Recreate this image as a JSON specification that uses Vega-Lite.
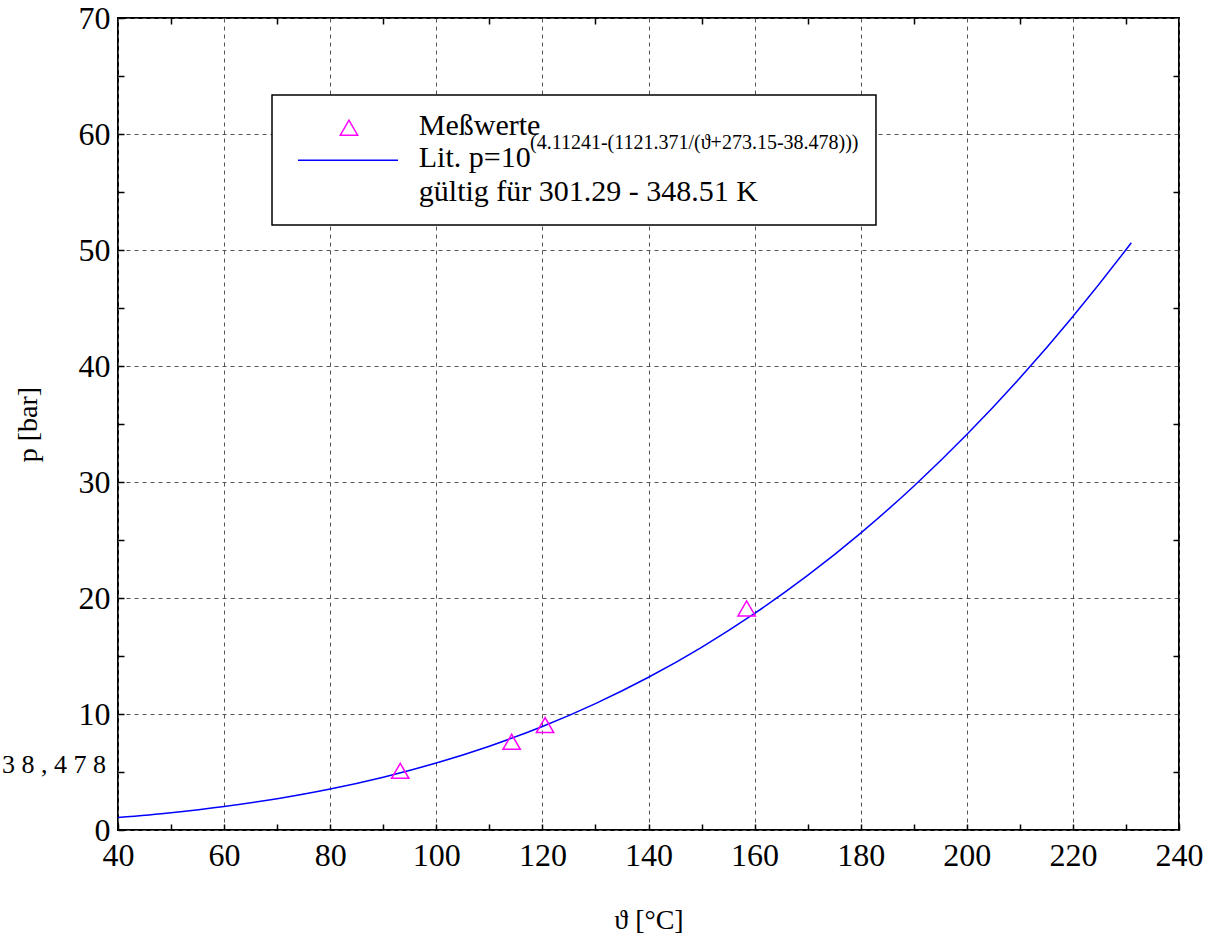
{
  "$schema": "https://vega.github.io/schema/vega-lite/v6.json",
  "width": 1061,
  "height": 812,
  "autosize": {"type": "none"},
  "padding": {"left": 118, "top": 18, "right": 36, "bottom": 104},
  "background": "white",
  "config": {
    "view": {"stroke": "black", "strokeWidth": 2},
    "font": "Liberation Serif",
    "axis": {
      "labelFont": "Liberation Serif",
      "labelFontSize": 32,
      "labelColor": "black",
      "labelFlush": false,
      "labelOverlap": false,
      "titleFont": "Liberation Serif",
      "titleFontSize": 28,
      "titleFontWeight": "normal",
      "titleColor": "black",
      "domain": false,
      "tickColor": "black",
      "tickWidth": 1.5,
      "gridColor": "#555555",
      "gridDash": [4, 4],
      "gridWidth": 1
    }
  },
  "datasets": {
    "curve": [
      {"T": 40, "p": 1.071}, {"T": 50, "p": 1.490}, {"T": 60, "p": 2.027}, {"T": 70, "p": 2.703},
      {"T": 80, "p": 3.538}, {"T": 90, "p": 4.556}, {"T": 100, "p": 5.778}, {"T": 110, "p": 7.227},
      {"T": 120, "p": 8.927}, {"T": 130, "p": 10.899}, {"T": 140, "p": 13.167}, {"T": 150, "p": 15.750},
      {"T": 160, "p": 18.670}, {"T": 170, "p": 21.946}, {"T": 180, "p": 25.596}, {"T": 190, "p": 29.638},
      {"T": 200, "p": 34.088}, {"T": 210, "p": 38.960}, {"T": 220, "p": 44.271}, {"T": 230, "p": 50.024},
      {"T": 231, "p": 50.624}
    ],
    "meas": [
      {"T": 93.2, "p": 5.1},
      {"T": 114.2, "p": 7.6},
      {"T": 120.5, "p": 9.05},
      {"T": 158.5, "p": 19.1}
    ]
  },
  "layer": [
    {
      "data": {"name": "curve"},
      "mark": {"type": "line", "color": "#0000FF", "strokeWidth": 1.5, "interpolate": "monotone"},
      "encoding": {
        "x": {
          "field": "T", "type": "quantitative",
          "scale": {"domain": [40, 240], "nice": false, "zero": false},
          "axis": {
            "orient": "bottom",
            "values": [40, 50, 60, 70, 80, 90, 100, 110, 120, 130, 140, 150, 160, 170, 180, 190, 200, 210, 220, 230, 240],
            "labelExpr": "datum.value % 20 === 0 ? datum.label : ''",
            "tickSize": -6,
            "labelPadding": 16,
            "gridOpacity": {"condition": {"test": "datum.value % 20 === 0", "value": 1}, "value": 0},
            "title": "ϑ [°C]",
            "titlePadding": 35
          }
        },
        "y": {
          "field": "p", "type": "quantitative",
          "scale": {"domain": [0, 70], "nice": false, "zero": false},
          "axis": {
            "orient": "left",
            "values": [0, 5, 10, 15, 20, 25, 30, 35, 40, 45, 50, 55, 60, 65, 70],
            "labelExpr": "datum.value % 10 === 0 ? datum.label : ''",
            "tickSize": -6,
            "labelPadding": 14,
            "gridOpacity": {"condition": {"test": "datum.value % 10 === 0", "value": 1}, "value": 0},
            "title": "p [bar]",
            "titlePadding": 36
          }
        }
      }
    },
    {
      "data": {"name": "meas"},
      "mark": {"type": "point", "shape": "triangle-up", "color": "#FF00FF", "filled": false, "size": 300, "strokeWidth": 1.5, "opacity": 1},
      "encoding": {
        "x": {
          "field": "T", "type": "quantitative",
          "axis": {
            "orient": "top",
            "values": [50, 70, 90, 110, 130, 150, 170, 190, 210, 230],
            "labels": false, "grid": false, "tickSize": -6, "title": null
          }
        },
        "y": {
          "field": "p", "type": "quantitative",
          "axis": {
            "orient": "right",
            "values": [5, 15, 25, 35, 45, 55, 65],
            "labels": false, "grid": false, "tickSize": -6, "title": null
          }
        }
      }
    },
    {
      "data": {"values": [{"box": "legend"}]},
      "mark": {"type": "rect", "fill": "white", "stroke": "black", "strokeWidth": 1.5},
      "encoding": {
        "x": {"datum": 69.03, "type": "quantitative", "axis": null},
        "x2": {"datum": 182.88},
        "y": {"datum": 63.36, "type": "quantitative", "axis": null},
        "y2": {"datum": 52.16}
      }
    },
    {
      "data": {"values": [{"entry": "Meßwerte"}]},
      "mark": {"type": "point", "shape": "triangle-up", "color": "#FF00FF", "filled": false, "size": 300, "strokeWidth": 1.5, "opacity": 1},
      "encoding": {
        "x": {"datum": 83.54, "type": "quantitative", "axis": null},
        "y": {"datum": 60.54, "type": "quantitative", "axis": null}
      }
    },
    {
      "data": {"values": [{"entry": "Lit."}]},
      "mark": {"type": "rule", "color": "#0000FF", "strokeWidth": 1.5},
      "encoding": {
        "x": {"datum": 73.93, "type": "quantitative", "axis": null},
        "x2": {"datum": 92.78},
        "y": {"datum": 57.73, "type": "quantitative", "axis": null}
      }
    },
    {
      "data": {"values": [{"t": "Meßwerte"}]},
      "mark": {"type": "text", "align": "left", "baseline": "alphabetic", "fontSize": 30, "font": "Liberation Serif", "color": "black"},
      "encoding": {
        "x": {"datum": 96.7, "type": "quantitative", "axis": null},
        "y": {"datum": 59.91, "type": "quantitative", "axis": null},
        "text": {"field": "t"}
      }
    },
    {
      "data": {"values": [{"t": "Lit. p=10"}]},
      "mark": {"type": "text", "align": "left", "baseline": "alphabetic", "fontSize": 30, "font": "Liberation Serif", "color": "black"},
      "encoding": {
        "x": {"datum": 96.7, "type": "quantitative", "axis": null},
        "y": {"datum": 57.18, "type": "quantitative", "axis": null},
        "text": {"field": "t"}
      }
    },
    {
      "data": {"values": [{"t": "(4.11241-(1121.371/(ϑ+273.15-38.478)))"}]},
      "mark": {"type": "text", "align": "left", "baseline": "alphabetic", "fontSize": 20, "font": "Liberation Serif", "color": "black"},
      "encoding": {
        "x": {"datum": 117.66, "type": "quantitative", "axis": null},
        "y": {"datum": 58.75, "type": "quantitative", "axis": null},
        "text": {"field": "t"}
      }
    },
    {
      "data": {"values": [{"t": "gültig für 301.29 - 348.51 K"}]},
      "mark": {"type": "text", "align": "left", "baseline": "alphabetic", "fontSize": 30, "font": "Liberation Serif", "color": "black"},
      "encoding": {
        "x": {"datum": 96.7, "type": "quantitative", "axis": null},
        "y": {"datum": 54.22, "type": "quantitative", "axis": null},
        "text": {"field": "t"}
      }
    },
    {
      "data": {"values": [{"t": "3 8 , 4 7 8"}]},
      "mark": {"type": "text", "align": "right", "baseline": "alphabetic", "fontSize": 26, "font": "Liberation Serif", "color": "black"},
      "encoding": {
        "x": {"datum": 37.74, "type": "quantitative", "axis": null},
        "y": {"datum": 4.91, "type": "quantitative", "axis": null},
        "text": {"field": "t"}
      }
    }
  ],
  "resolve": {"axis": {"x": "independent", "y": "independent"}}
}
